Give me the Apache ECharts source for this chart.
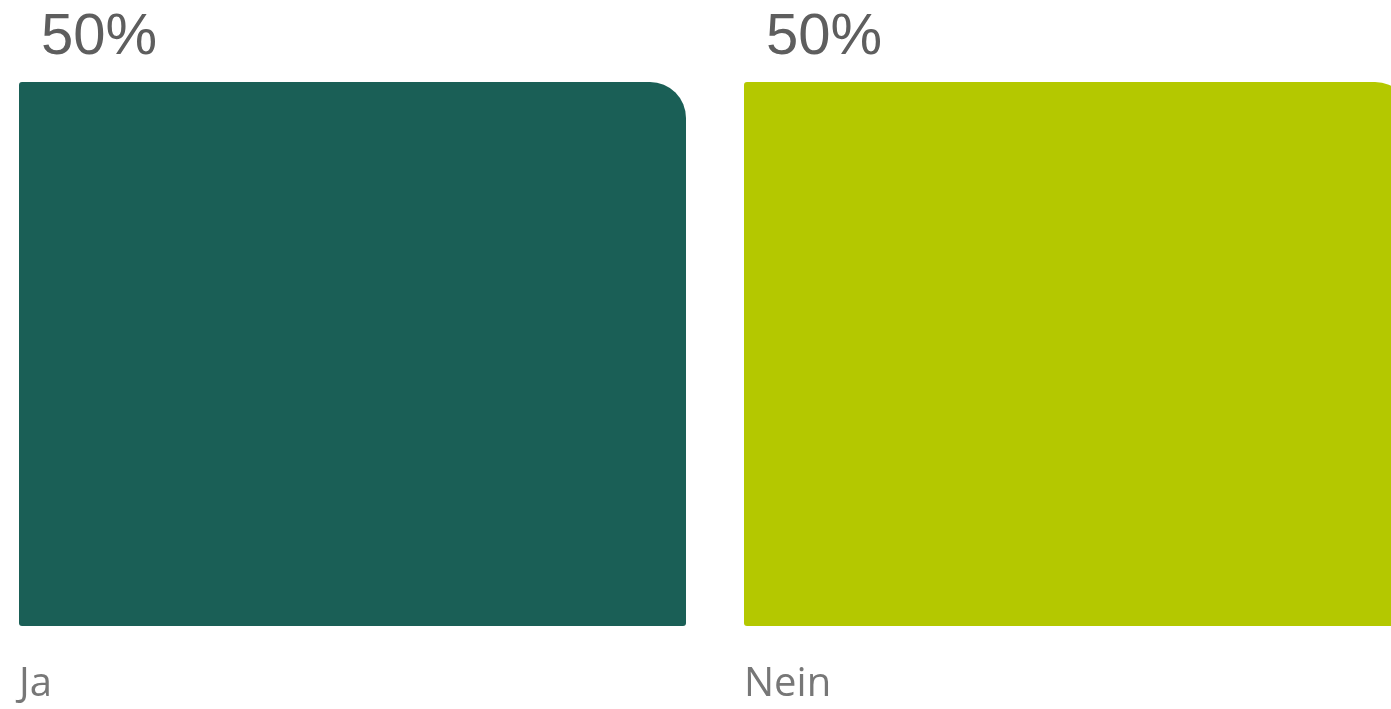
<!DOCTYPE html>
<html>
<head>
<meta charset="utf-8">
<script src="https://cdn.jsdelivr.net/npm/echarts@6/dist/echarts.min.js"></script>
<style>
html,body{margin:0;padding:0;background:#fff;}
#c{width:1391px;height:709px;}
</style>
</head>
<body>
<div id="c"></div>
<script>
const categories = ['Ja', 'Nein'];
const values = [50, 50];
const colors = ['#1a5f56', '#b4c800'];

const chart = echarts.init(document.getElementById('c'));
chart.setOption({
  animation: false,
  grid: { left: -10, width: 1450, top: 82, bottom: 83, containLabel: false, outerBoundsMode: 'none' },
  xAxis: {
    type: 'category',
    data: categories,
    axisLine: { show: false },
    axisTick: { show: false },
    axisLabel: {
      interval: 0,
      margin: 39,
      width: 667,
      align: 'center',
      verticalAlign: 'top',
      hideOverlap: false,
      formatter: function (v) { return '{a|' + v + '}'; },
      rich: {
        a: { align: 'left', fontFamily: 'Open Sans', fontSize: 40, color: '#777777' }
      }
    }
  },
  yAxis: {
    type: 'value',
    min: 0,
    max: 50,
    show: false,
    splitLine: { show: false }
  },
  series: [{
    type: 'bar',
    barWidth: 667,
    data: values.map((v, i) => ({
      value: v,
      itemStyle: { color: colors[i], borderRadius: [3, 36, 3, 3] }
    })),
    label: {
      show: true,
      position: [22, -44],
      align: 'left',
      verticalAlign: 'middle',
      formatter: '{c}%',
      fontFamily: 'Liberation Sans',
      fontSize: 58,
      color: '#5e5e5e'
    }
  }]
});
</script>
</body>
</html>
